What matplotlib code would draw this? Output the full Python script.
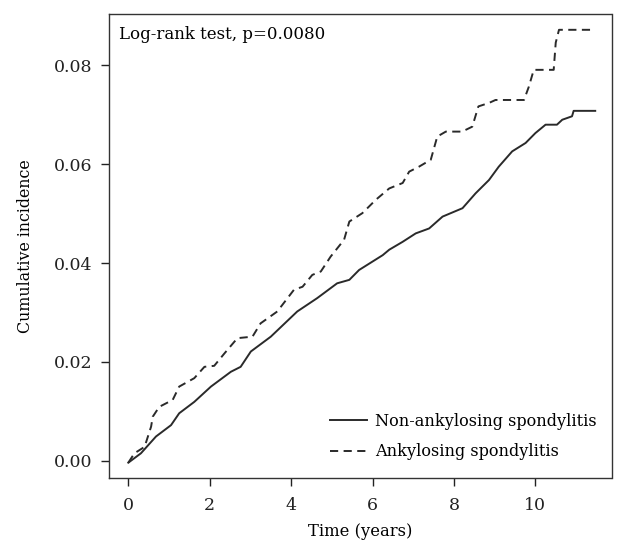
import matplotlib
matplotlib.use("Agg")
import matplotlib.pyplot as plt

# Non-ankylosing spondylitis (solid)
t_non = [0.0, 0.31, 0.68, 1.05, 1.25, 1.62, 2.03, 2.52, 2.76, 3.01, 3.5, 4.15, 4.64, 5.13,
         5.43, 5.67, 6.25, 6.41, 6.74, 7.06, 7.39, 7.72, 8.21, 8.53, 8.86, 9.1, 9.43, 9.76,
         10.0, 10.25, 10.53, 10.66, 10.9, 10.94, 11.47]
v_non = [-0.0004, 0.0015, 0.0049, 0.0072, 0.0096, 0.0119, 0.015, 0.018, 0.019, 0.0221, 0.0251,
         0.0302, 0.0329, 0.0359, 0.0366, 0.0386, 0.0416, 0.0427, 0.0443, 0.046, 0.047, 0.0494,
         0.0511, 0.0541, 0.0568, 0.0595, 0.0626, 0.0643, 0.0663, 0.068, 0.068, 0.069, 0.0697,
         0.0708, 0.0708]

# Ankylosing spondylitis (dashed)
t_as = [0.0, 0.15, 0.4, 0.56, 0.6, 0.76, 1.09, 1.25, 1.62, 1.87, 2.11, 2.36, 2.68, 3.05, 3.25,
        3.66, 4.07, 4.28, 4.52, 4.73, 4.97, 5.3, 5.43, 5.75, 6.08, 6.41, 6.74, 6.9, 7.14, 7.43,
        7.59, 7.8, 8.2, 8.45, 8.6, 8.86, 9.02, 9.72, 9.84, 9.96, 10.45, 10.5, 10.58, 11.43]
v_as = [-0.0004, 0.0015, 0.0028, 0.0069, 0.0089, 0.0109, 0.0123, 0.015, 0.0167, 0.019, 0.0192,
        0.0217, 0.0248, 0.0251, 0.0278, 0.0302, 0.0346, 0.0352, 0.0376, 0.0383, 0.0413, 0.0447,
        0.0484, 0.0501, 0.0528, 0.0551, 0.0562, 0.0585, 0.0595, 0.0609, 0.0656, 0.0666, 0.0666,
        0.0676, 0.0717, 0.0724, 0.073, 0.073, 0.0757, 0.0791, 0.0791, 0.0846, 0.0872, 0.0872]

labels = ["Non-ankylosing spondylitis", "Ankylosing spondylitis"]
x_ticks = [0, 2, 4, 6, 8, 10]
y_ticks = [0.00, 0.02, 0.04, 0.06, 0.08]
annotation = "Log-rank test, p=0.0080"

plt.rcParams['font.family'] = ['DejaVu Serif']
plt.rcParams['font.size'] = 12.5

fig = plt.figure(figsize=(6.17, 5.40), dpi=100)
ax = fig.add_axes([109.3/617, 1-478/540, (611.5-109.3)/617, (478-14)/540])

col = '#2a2a2a'
ax.plot(t_non, v_non, color=col, lw=1.4, label=labels[0])
ax.plot(t_as, v_as, color=col, lw=1.4, linestyle=(0, (4.2, 2.8)), label=labels[1])

ax.set_xlim(-0.467, 11.87)
ax.set_ylim(-0.0035, 0.0904)
ax.set_xticks(x_ticks)
ax.set_yticks(y_ticks)
ax.set_yticklabels([f"{v:.2f}" for v in y_ticks])
ax.tick_params(direction='out', length=6, width=1, colors='#222222')
ax.tick_params(axis='x', pad=7.5)
ax.tick_params(axis='y', pad=6)
for s in ax.spines.values():
    s.set_linewidth(1.0)
    s.set_color('#333333')

ax.set_xlabel("Time (years)", fontsize=11.8)
ax.xaxis.set_label_coords(0.5, -0.098)
ax.set_ylabel("Cumulative incidence", fontsize=11.4)
ax.yaxis.set_label_coords(-(109.3 - 34) / (611.5 - 109.3), 0.5)

ax.text(0.02, 0.975, annotation, transform=ax.transAxes, ha='left', va='top', fontsize=12)

leg = ax.legend(loc='lower right', frameon=False, handlelength=2.3, handletextpad=0.5,
                labelspacing=0.85, bbox_to_anchor=(1.0, 0.007), fontsize=11.6)

fig.savefig("out.png", dpi=100)
